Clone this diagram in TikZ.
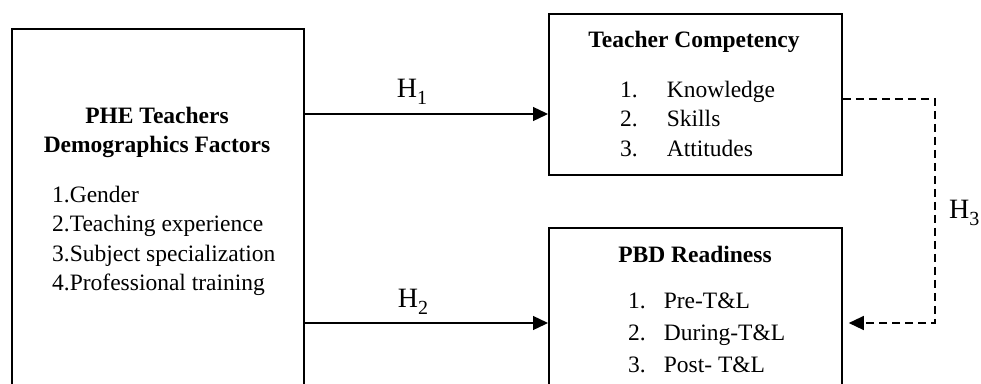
\documentclass[tikz,border=0pt]{standalone}
\usepackage{fontspec}
\setmainfont{Liberation Serif}
\usetikzlibrary{arrows.meta}
\newcommand{\hyp}[1]{{\fontsize{28}{28}\selectfont H\raisebox{-7pt}{\fontsize{20}{20}\selectfont #1}}}

\begin{document}
\begin{tikzpicture}[x=1pt,y=-1pt,
  box/.style={draw,line width=1.8pt,rectangle,inner sep=0pt,anchor=north west},
  txt/.style={inner sep=0pt,font=\fontsize{23.5}{29.5}\selectfont},
  hyparrow/.style={-{Triangle[length=15pt,width=14pt]},line width=1.3pt},
  hypdash/.style={hyparrow,dash pattern=on 8pt off 5pt}]
\clip (0,0) rectangle (981,383);
% boxes
\node[box,minimum width=292,minimum height=400] (demo) at (11,28) {};
\node[box,minimum width=293,minimum height=161] (comp) at (548,13) {};
\node[box,minimum width=293,minimum height=200] (ready) at (548,227) {};
% texts
\node[txt,anchor=base] (demotitle) at (157,123) {\bfseries\begin{tabular}[t]{@{}c@{}}PHE Teachers\\Demographics Factors\end{tabular}};
\node[txt,anchor=base west] (demolist) at (52,202) {\begin{tabular}[t]{@{}l@{}}1.Gender\\2.Teaching experience\\3.Subject specialization\\4.Professional training\end{tabular}};
\node[txt,anchor=base] (comptitle) at (694,47) {\bfseries Teacher Competency};
\node[txt,anchor=base west] (complist) at (620,97) {\begin{tabular}[t]{@{}l@{\hspace{29pt}}l@{}}1.&Knowledge\\2.&Skills\\3.&Attitudes\end{tabular}};
\node[txt,anchor=base] (readytitle) at (695,262) {\bfseries PBD Readiness};
\node[txt,anchor=base west,font=\fontsize{23.5}{32}\selectfont] (readylist) at (628,308) {\begin{tabular}[t]{@{}l@{\hspace{18pt}}l@{}}1.&Pre-T\&L\\2.&During-T\&L\\3.&Post- T\&L\end{tabular}};
% hypotheses
\node[anchor=base,inner sep=0pt] (h1lab) at (412,97) {\hyp{1}};
\node[anchor=base,inner sep=0pt] (h2lab) at (413,307) {\hyp{2}};
\node[anchor=base west,inner sep=0pt] (h3lab) at (949,218) {\hyp{3}};
\coordinate (h1) at (0,114);
\coordinate (h2) at (0,323);
\coordinate (h3) at (0,99);
\coordinate (turn) at (935,323);
\draw[hyparrow] (demo.east |- h1) -- (comp.west |- h1);
\draw[hyparrow] (demo.east |- h2) -- (ready.west |- h2);
\draw[hypdash,shorten >=6pt] (comp.east |- h3) -| (turn) -- (ready.east |- turn);
\end{tikzpicture}
\end{document}
